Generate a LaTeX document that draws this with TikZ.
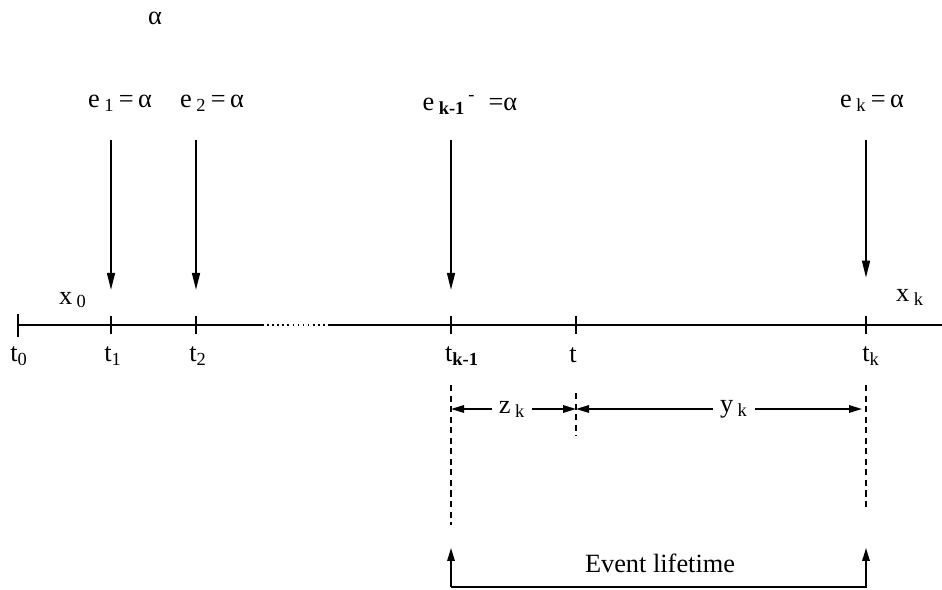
\documentclass[tikz,border=0pt]{standalone}
\usepackage{fontspec}
\setmainfont{Liberation Serif}
\usetikzlibrary{arrows.meta}
\tikzset{
  evarrow/.style={line width=0.9pt, -{Triangle[length=3.4mm,width=1.6mm]}},
  dimarrow/.style={line width=0.9pt, -{Triangle[length=2.6mm,width=1.5mm]}},
  tick/.style={line width=0.9pt},
  guide/.style={line width=0.8pt, dash pattern=on 3.5pt off 2.5pt},
  lbl/.style={inner sep=1pt, font=\fontsize{15}{17}\selectfont},
  dimlbl/.style={lbl, inner xsep=4pt}
}
\begin{document}
\begin{tikzpicture}[x=0.02cm, y=-0.02cm]
  \useasboundingbox (0,0) rectangle (942,590);
  % event labels
  \node[lbl] (alpha) at (155,18) {α};
  \node[lbl] (e1) at (120,103) {e\,\textsubscript{1}\,=\,α};
  \node[lbl] (e2) at (212,103) {e\,\textsubscript{2}\,=\,α};
  \node[lbl] (ekm) at (470,105) {e\,\textsubscript{\textbf{k-1}}\textsuperscript{\,-}\enspace=α};
  \node[lbl] (ek) at (872,103) {e\,\textsubscript{k}\,=\,α};
  % time axis
  \coordinate (ax0) at (18,325);
  \coordinate (axd0) at (262,325);
  \coordinate (axd1) at (330,325);
  \coordinate (axe) at (942,325);
  \draw[tick] (ax0) -- (axd0);
  \draw[tick, dotted] (axd0) -- (axd1);
  \draw[tick] (axd1) -- (axe);
  \draw[tick] (18,314) -- (18,337);
  \foreach \x/\n in {111/1, 196/2, 451/km, 576/t, 866/k} {
    \coordinate (p\n) at (\x,325);
    \draw[tick] (\x,316) -- (\x,334);
  }
  % arrivals
  \coordinate (s1) at (111,140);
  \coordinate (s2) at (196,140);
  \coordinate (skm) at (451,140);
  \coordinate (sk) at (866,140);
  \draw[evarrow, shorten >=20] (s1) -- (p1);
  \draw[evarrow, shorten >=20] (s2) -- (p2);
  \draw[evarrow, shorten >=20] (skm) -- (pkm);
  \draw[evarrow, shorten >=27] (sk) -- (pk);
  % states
  \node[lbl] (x0) at (73,300) {x\,\textsubscript{0}};
  \node[lbl] (xk) at (910,297) {x\,\textsubscript{k}};
  % time labels
  \node[lbl] (t0) at (19,356) {t\textsubscript{0}};
  \node[lbl] (t1) at (113,356) {t\textsubscript{1}};
  \node[lbl] (t2) at (198,356) {t\textsubscript{2}};
  \node[lbl] (tkm) at (462,356) {t\textsubscript{\textbf{k-1}}};
  \node[lbl] (t) at (573,355) {t};
  \node[lbl] (tk) at (871,356) {t\textsubscript{k}};
  % guides
  \draw[guide] (451,385) -- (451,525);
  \draw[guide] (576,393) -- (576,436);
  \draw[guide] (866,385) -- (866,510);
  % z_k and y_k
  \coordinate (zl) at (451,409);
  \coordinate (zr) at (576,409);
  \coordinate (yr) at (862,409);
  \node[dimlbl] (zk) at (512,409) {z\,\textsubscript{k}};
  \node[dimlbl] (yk) at (734,409) {y\,\textsubscript{k}};
  \draw[dimarrow] (zk.west) -- (zl);
  \draw[dimarrow] (zk.east) -- (zr);
  \draw[dimarrow] (yk.west) -- (zr);
  \draw[dimarrow] (yk.east) -- (yr);
  % lifetime
  \coordinate (lb0) at (451,587);
  \coordinate (lb1) at (866,587);
  \coordinate (lt0) at (451,548);
  \coordinate (lt1) at (866,548);
  \node[lbl] (life) at (660,563) {Event lifetime};
  \draw[dimarrow] (lb0) -- (lb1) -- (lt1);
  \draw[dimarrow] (lb0) -- (lt0);
\end{tikzpicture}
\end{document}
